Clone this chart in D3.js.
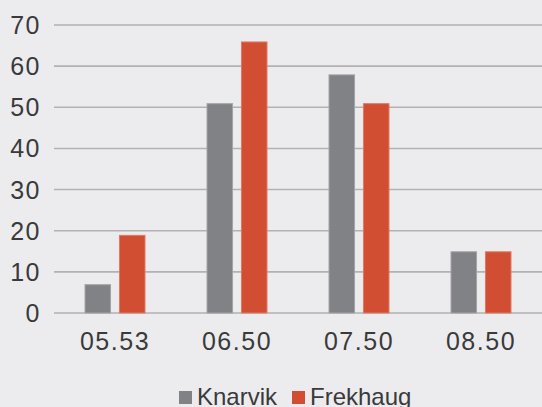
<!DOCTYPE html>
<html>
<head>
<meta charset="utf-8">
<script src="https://cdn.jsdelivr.net/npm/d3@7"></script>
<style>
  html, body { margin: 0; padding: 0; background: #ececee; }
  svg { display: block; }
  text { font-family: "Liberation Sans", Arial, sans-serif; fill: #3a3a3a; }
</style>
</head>
<body>
<div id="chart"></div>
<script>
'use strict';

// data
const categories = ['05.53', '06.50', '07.50', '08.50'];
const seriesNames = ['Knarvik', 'Frekhaug'];
const knarvik = [7, 51, 58, 15];
const frekhaug = [19, 66, 51, 15];
const yTicks = [0, 10, 20, 30, 40, 50, 60, 70];

const colors = ['#818286', '#d14e33'];
const edges = ['#a3a4a7', '#e07a63'];

const width = 542, height = 407;
const plot = { left: 54, right: 542, top: 25, bottom: 313 };

const svg = d3.select('#chart').append('svg')
    .attr('width', width)
    .attr('height', height);

const x0 = d3.scaleBand()
    .domain(categories)
    .range([plot.left, plot.right])
    .paddingInner(0.5)
    .paddingOuter(0.25);

const x1 = d3.scaleBand()
    .domain(seriesNames)
    .range([0, x0.bandwidth()])
    .paddingInner(0.23);

const y = d3.scaleLinear()
    .domain([0, 70])
    .range([plot.bottom, plot.top]);

// gridlines
svg.append('g')
    .selectAll('line')
    .data(yTicks)
  .enter().append('line')
    .attr('x1', plot.left)
    .attr('x2', plot.right)
    .attr('y1', d => y(d))
    .attr('y2', d => y(d))
    .attr('stroke', '#b2b2b4')
    .attr('stroke-width', 1.6);

// y labels
svg.append('g')
    .selectAll('text')
    .data(yTicks)
  .enter().append('text')
    .attr('x', 41)
    .attr('y', d => y(d))
    .attr('dy', '0.36em')
    .attr('text-anchor', 'end')
    .style('font-size', '25px')
    .style('letter-spacing', '1.5px')
    .text(d => d);

// bars
const rows = categories.map((c, i) => ({ cat: c, values: [knarvik[i], frekhaug[i]] }));

const group = svg.append('g')
    .selectAll('g')
    .data(rows)
  .enter().append('g')
    .attr('transform', d => 'translate(' + x0(d.cat) + ',0)');

group.selectAll('rect')
    .data(d => d.values.map((v, j) => ({ name: seriesNames[j], value: v, j: j })))
  .enter().append('rect')
    .attr('x', d => x1(d.name) + 0.5)
    .attr('y', d => y(d.value) + 0.5)
    .attr('width', x1.bandwidth() - 1)
    .attr('height', d => y(0) - y(d.value) - 0.5)
    .attr('fill', d => colors[d.j])
    .attr('stroke', d => edges[d.j])
    .attr('stroke-width', 1);

// x labels
svg.append('g')
    .selectAll('text')
    .data(categories)
  .enter().append('text')
    .attr('x', d => x0(d) + x0.bandwidth() / 2)
    .attr('y', 350)
    .attr('text-anchor', 'middle')
    .style('font-size', '25px')
    .style('letter-spacing', '1.5px')
    .text(d => d);

// legend
const legendX = [179, 292];
const legend = svg.append('g')
    .selectAll('g')
    .data(seriesNames)
  .enter().append('g')
    .attr('transform', (d, i) => 'translate(' + legendX[i] + ',391)');

legend.append('rect')
    .attr('width', 13)
    .attr('height', 13)
    .attr('fill', (d, i) => colors[i]);

legend.append('text')
    .attr('x', 18)
    .attr('y', 14)
    .style('font-size', '24px')
    .text(d => d);
</script>
</body>
</html>
